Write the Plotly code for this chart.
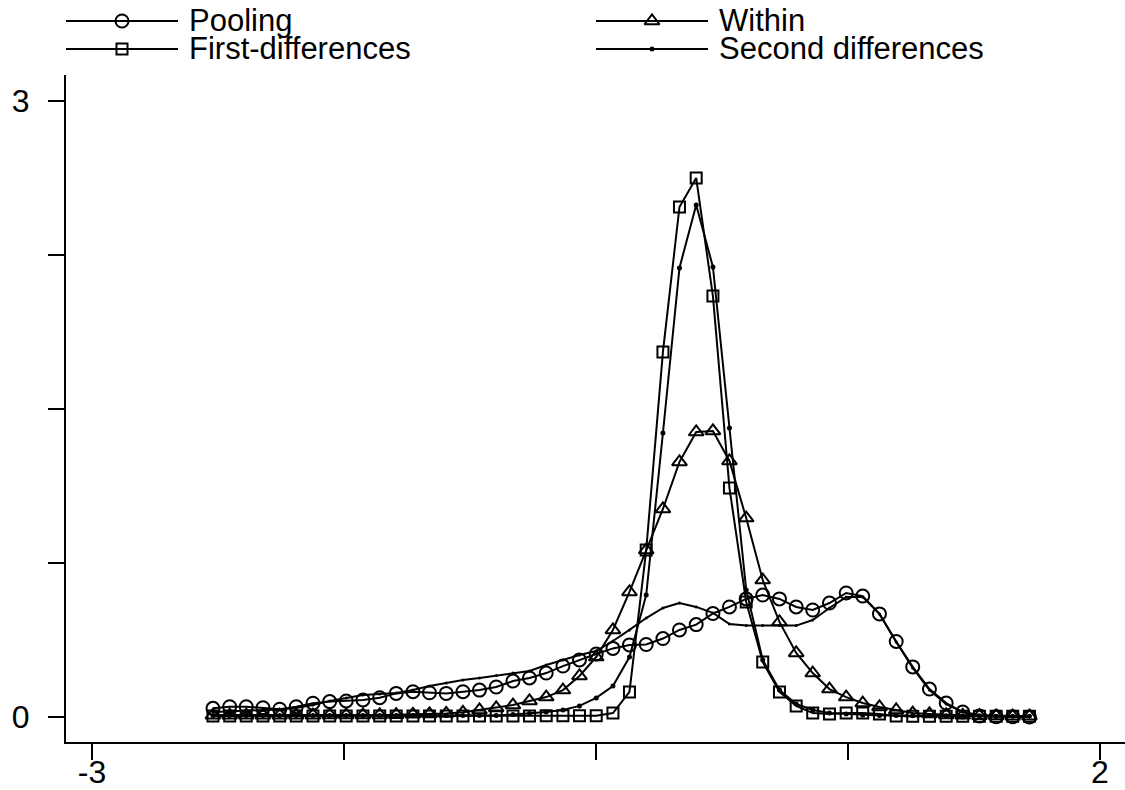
import plotly.graph_objects as go

# ---------------- data ----------------
x_grid = [-2.400, -2.317, -2.235, -2.152, -2.069, -1.987, -1.904, -1.821, -1.739, -1.656,
          -1.573, -1.491, -1.408, -1.326, -1.243, -1.160, -1.078, -0.995, -0.912, -0.830,
          -0.747, -0.664, -0.582, -0.499, -0.416, -0.334, -0.251, -0.168, -0.086, -0.003,
          0.080, 0.162, 0.245, 0.327, 0.410, 0.493, 0.575, 0.658, 0.741, 0.823,
          0.906, 0.989, 1.071, 1.154, 1.237, 1.319, 1.402, 1.485, 1.567, 1.650]

pooling = [0.042, 0.050, 0.050, 0.045, 0.038, 0.050, 0.067, 0.075, 0.078, 0.083,
           0.094, 0.115, 0.123, 0.118, 0.115, 0.123, 0.131, 0.146, 0.175, 0.190,
           0.214, 0.248, 0.278, 0.307, 0.334, 0.351, 0.353, 0.382, 0.424, 0.450,
           0.504, 0.536, 0.575, 0.594, 0.575, 0.536, 0.521, 0.555, 0.604, 0.589,
           0.502, 0.368, 0.244, 0.136, 0.068, 0.024, 0.005, 0.001, 0.001, 0.000]

within = [0.009, 0.009, 0.009, 0.009, 0.009, 0.009, 0.009, 0.010, 0.010, 0.010,
          0.010, 0.011, 0.013, 0.015, 0.017, 0.023, 0.034, 0.044, 0.058, 0.078,
          0.097, 0.131, 0.200, 0.292, 0.424, 0.609, 0.813, 1.013, 1.242, 1.388,
          1.393, 1.247, 0.969, 0.667, 0.463, 0.312, 0.214, 0.136, 0.097, 0.068,
          0.049, 0.034, 0.019, 0.015, 0.010, 0.008, 0.006, 0.005, 0.004, 0.004]

first_diff = [0.005, 0.005, 0.005, 0.005, 0.005, 0.005, 0.005, 0.005, 0.005, 0.005,
              0.005, 0.005, 0.005, 0.005, 0.005, 0.005, 0.005, 0.005, 0.005, 0.005,
              0.006, 0.006, 0.006, 0.006, 0.019, 0.122, 0.813, 1.778, 2.484, 2.625,
              2.050, 1.115, 0.560, 0.268, 0.122, 0.054, 0.019, 0.015, 0.019, 0.019,
              0.015, 0.005, 0.004, 0.004, 0.004, 0.004, 0.004, 0.004, 0.004, 0.004]

second_diff = [0.007, 0.007, 0.007, 0.007, 0.007, 0.007, 0.007, 0.007, 0.007, 0.007,
               0.007, 0.007, 0.007, 0.007, 0.007, 0.007, 0.007, 0.007, 0.012, 0.017,
               0.024, 0.034, 0.054, 0.093, 0.151, 0.292, 0.594, 1.383, 2.187, 2.494,
               2.192, 1.408, 0.619, 0.278, 0.131, 0.063, 0.034, 0.019, 0.015, 0.010,
               0.007, 0.007, 0.006, 0.006, 0.005, 0.005, 0.005, 0.004, 0.004, 0.004]

extra_curve = [0.024, 0.027, 0.029, 0.032, 0.037, 0.044, 0.058, 0.078, 0.093, 0.107,
               0.112, 0.117, 0.131, 0.151, 0.166, 0.180, 0.190, 0.202, 0.214, 0.224,
               0.253, 0.278, 0.302, 0.321, 0.370, 0.424, 0.482, 0.531, 0.555, 0.536,
               0.507, 0.453, 0.445, 0.445, 0.445, 0.445, 0.472, 0.531, 0.584, 0.584,
               0.502, 0.365, 0.239, 0.131, 0.063, 0.024, 0.010, 0.005, 0.002, 0.001]

legend_labels = ["Pooling", "Within", "First-differences", "Second differences"]
x_tickvals = [-3, -1.75, -0.5, 0.75, 2]
x_ticktext = ["-3", "", "", "", "2"]
y_tickvals = [0, 0.75, 1.5, 2.25, 3]
y_ticktext = ["0", "", "", "", "3"]

# ---------------- styling ----------------
FONT = "Liberation Sans, Arial, Helvetica, sans-serif"
BLACK = "#000000"
LW = 2

series = [
    (legend_labels[0], pooling, "circle-open", 13),
    (legend_labels[1], within, "triangle-up-open", 13),
    (legend_labels[2], first_diff, "square-open", 11),
    (legend_labels[3], second_diff, "circle", 3),
]

fig = go.Figure()
for name, ys, sym, sz in series:
    fig.add_trace(go.Scatter(
        x=x_grid, y=ys, name=name, mode="lines+markers",
        line=dict(color=BLACK, width=LW),
        marker=dict(symbol=sym, size=sz, color=BLACK, line=dict(color=BLACK, width=LW)),
        xaxis="x", yaxis="y", showlegend=False,
    ))
fig.add_trace(go.Scatter(
    x=x_grid, y=extra_curve, mode="lines+markers",
    line=dict(color=BLACK, width=LW),
    marker=dict(symbol="circle", size=3, color=BLACK),
    xaxis="x", yaxis="y", showlegend=False,
))

# ---------------- legend key (drawn on an overlay pixel axis) ----------------
key_left = [66, 596]     # left end of key line for each column (px)
key_len = 112
row_y = [21, 49]         # vertical position of each row (px from top)
text_gap = 9
order = [(0, 0), (1, 0), (0, 1), (1, 1)]  # (column, row) for each legend entry
annotations = []
for (name, ys, sym, sz), (c, r) in zip(series, order):
    x0 = key_left[c]
    x1 = x0 + key_len
    xm = (x0 + x1) / 2
    fig.add_trace(go.Scatter(x=[x0, x1], y=[row_y[r], row_y[r]], mode="lines",
                             line=dict(color=BLACK, width=LW),
                             xaxis="x2", yaxis="y2", showlegend=False, hoverinfo="skip"))
    fig.add_trace(go.Scatter(x=[xm], y=[row_y[r]], mode="markers",
                             marker=dict(symbol=sym, size=sz, color=BLACK,
                                         line=dict(color=BLACK, width=LW)),
                             xaxis="x2", yaxis="y2", showlegend=False, hoverinfo="skip"))
    annotations.append(dict(x=x1 + text_gap, y=row_y[r] - 1, xref="x2", yref="y2",
                            text=name, showarrow=False, xanchor="left", yanchor="middle",
                            font=dict(family=FONT, size=31, color=BLACK)))

W, H = 1125, 790
ML, MR, MT, MB = 66, 0, 0, 48
plot_top_px = 75
paper_h = H - MT - MB
y_dom_top = (paper_h - plot_top_px) / paper_h

axis_common = dict(showline=True, linecolor=BLACK, linewidth=LW, ticks="outside",
                   ticklen=16, tickwidth=LW, tickcolor=BLACK, showgrid=False,
                   zeroline=False, automargin=False,
                   tickfont=dict(family=FONT, size=32, color=BLACK))

fig.update_layout(
    width=W, height=H,
    margin=dict(l=ML, r=MR, t=MT, b=MB, pad=0, autoexpand=False),
    paper_bgcolor="white", plot_bgcolor="white",
    showlegend=False,
    xaxis=dict(domain=[0, 1], range=[-3.129, 2.124], tickvals=x_tickvals,
               ticktext=x_ticktext, anchor="y", ticklabelstandoff=-15, **axis_common),
    yaxis=dict(domain=[0, y_dom_top], range=[-0.1218, 3.1266], tickvals=y_tickvals,
               ticktext=y_ticktext, anchor="x", ticklabelstandoff=12, **axis_common),
    xaxis2=dict(domain=[0, 1], range=[ML, W - MR], visible=False, anchor="y2",
                fixedrange=True),
    yaxis2=dict(domain=[y_dom_top, 1], range=[plot_top_px, 0], visible=False,
                anchor="x2", fixedrange=True),
    annotations=annotations,
)

fig.write_html("out.html")
